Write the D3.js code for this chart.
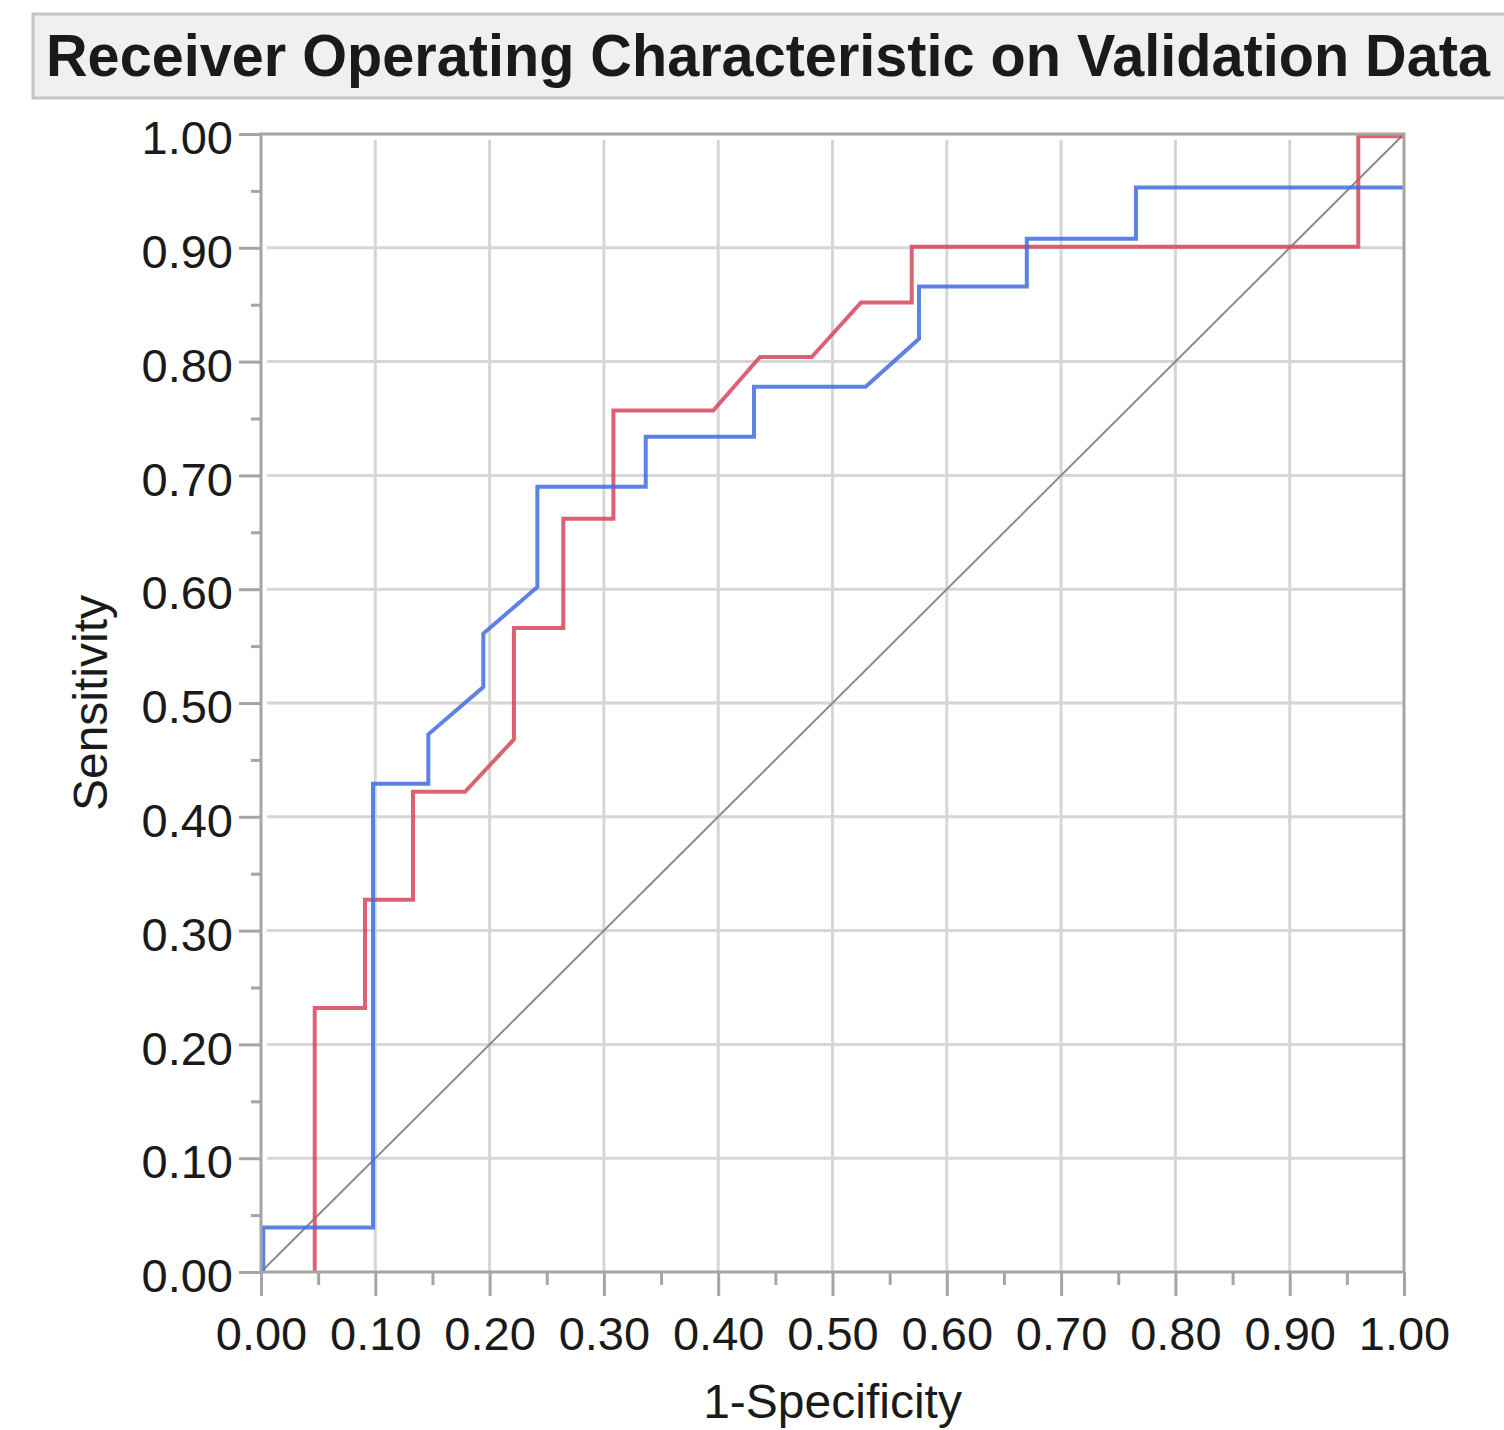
<!DOCTYPE html>
<html>
<head>
<meta charset="utf-8">
<script src="https://cdn.jsdelivr.net/npm/d3@7"></script>
<style>
    body { margin: 0; background: #fff; }
    svg { display: block; }
    text { font-family: "Liberation Sans", Arial, sans-serif; fill: #1a1a1a; }
</style>
</head>
<body>
<svg id="chart" width="1504" height="1430"></svg>
<script>
// --- Data ---
const titleText = 'Receiver Operating Characteristic on Validation Data';
const xLabel = '1-Specificity';
const yLabel = 'Sensitivity';
const majorTicks = [0, 0.1, 0.2, 0.3, 0.4, 0.5, 0.6, 0.7, 0.8, 0.9, 1.0];
const minorTicks = [0.05, 0.15, 0.25, 0.35, 0.45, 0.55, 0.65, 0.75, 0.85, 0.95];

// red series: vertices of the ROC path
const redX = [0.047, 0.047, 0.091, 0.091, 0.133, 0.133, 0.1785, 0.2213, 0.2213, 0.2645, 0.2645, 0.3083, 0.3083, 0.3957, 0.4366, 0.4818, 0.525, 0.5693, 0.5693, 0.960, 0.960, 1.0];
const redY = [0, 0.232, 0.232, 0.327, 0.327, 0.422, 0.422, 0.468, 0.566, 0.566, 0.662, 0.662, 0.757, 0.757, 0.804, 0.804, 0.852, 0.852, 0.901, 0.901, 0.998, 0.998];

// blue series
const blueX = [0.002, 0.002, 0.098, 0.098, 0.1464, 0.1464, 0.1945, 0.1945, 0.2418, 0.2418, 0.3366, 0.3366, 0.4313, 0.4313, 0.529, 0.5757, 0.5757, 0.670, 0.670, 0.7655, 0.7655, 1.0];
const blueY = [0, 0.039, 0.039, 0.429, 0.429, 0.4725, 0.514, 0.561, 0.602, 0.690, 0.690, 0.734, 0.734, 0.778, 0.778, 0.820, 0.866, 0.866, 0.908, 0.908, 0.953, 0.953];

const diagX = [0, 1];
const diagY = [0, 1];

// --- Layout ---
const svg = d3.select('#chart');
const margin = { left: 261, top: 134, right: 100, bottom: 158 };
const plotW = 1143, plotH = 1138;

const x = d3.scaleLinear().domain([0, 1]).range([margin.left, margin.left + plotW]);
const y = d3.scaleLinear().domain([0, 1]).range([margin.top + plotH, margin.top]);

// --- Title box ---
svg.append('rect')
    .attr('x', 33).attr('y', 14)
    .attr('width', 1500).attr('height', 84)
    .attr('fill', '#f0f0f0')
    .attr('stroke', '#c4c4c4').attr('stroke-width', 3);

svg.append('text')
    .attr('x', 46).attr('y', 76)
    .attr('font-family', '"Noto Sans", "Open Sans", sans-serif')
    .attr('font-weight', 'bold')
    .attr('font-size', 60)
    .attr('textLength', 1444)
    .attr('lengthAdjust', 'spacingAndGlyphs')
    .attr('fill', '#222')
    .text(titleText);

// --- Grid ---
const grid = svg.append('g').attr('stroke', '#d6d6d6').attr('stroke-width', 3);
grid.selectAll('.vgrid')
    .data(majorTicks.slice(1, -1))
    .join('line')
    .attr('x1', d => x(d)).attr('x2', d => x(d))
    .attr('y1', y(1) + 6).attr('y2', y(0));
grid.selectAll('.hgrid')
    .data(majorTicks.slice(1, -1))
    .join('line')
    .attr('y1', d => y(d)).attr('y2', d => y(d))
    .attr('x1', x(0) + 6).attr('x2', x(1));

// --- Diagonal reference ---
const lineGen = d3.line().x(d => x(d[0])).y(d => y(d[1]));
svg.append('path')
    .datum(d3.zip(diagX, diagY))
    .attr('d', lineGen)
    .attr('fill', 'none')
    .attr('stroke', '#8a8a8a')
    .attr('stroke-width', 2);

// --- ROC curves ---
svg.append('path')
    .datum(d3.zip(redX, redY))
    .attr('d', lineGen)
    .attr('fill', 'none')
    .attr('stroke', '#d6475b')
    .attr('stroke-opacity', 0.85)
    .attr('stroke-width', 4);

svg.append('path')
    .datum(d3.zip(blueX, blueY))
    .attr('d', lineGen)
    .attr('fill', 'none')
    .attr('stroke', '#3f6ce0')
    .attr('stroke-opacity', 0.85)
    .attr('stroke-width', 4);

// --- Axes ---
const fmt = d3.format('.2f');
const axisColor = '#a5a5a5';

const xMajor = svg.append('g')
    .attr('transform', `translate(0,${y(0)})`)
    .call(d3.axisBottom(x).tickValues(majorTicks).tickFormat(fmt).tickSize(24).tickPadding(21));
const xMinor = svg.append('g')
    .attr('transform', `translate(0,${y(0)})`)
    .call(d3.axisBottom(x).tickValues(minorTicks).tickFormat('').tickSize(13));

const yMajor = svg.append('g')
    .attr('transform', `translate(${x(0)},0)`)
    .call(d3.axisLeft(y).tickValues(majorTicks).tickFormat(fmt).tickSize(22).tickPadding(6));
const yMinor = svg.append('g')
    .attr('transform', `translate(${x(0)},0)`)
    .call(d3.axisLeft(y).tickValues(minorTicks).tickFormat('').tickSize(10));

[xMajor, xMinor, yMajor, yMinor].forEach(g => {
    g.select('.domain').remove();
    g.selectAll('.tick line').attr('stroke', axisColor).attr('stroke-width', 3);
    g.selectAll('text')
        .attr('font-family', '"Liberation Sans", Arial, sans-serif')
        .attr('font-size', 47)
        .attr('fill', '#1a1a1a');
});
yMajor.selectAll('text').attr('dy', '0.42em');

// frame around plot
svg.append('rect')
    .attr('x', x(0)).attr('y', y(1))
    .attr('width', plotW).attr('height', plotH)
    .attr('fill', 'none')
    .attr('stroke', axisColor).attr('stroke-width', 3);

// --- Axis titles ---
svg.append('text')
    .attr('x', x(0.5)).attr('y', 1418)
    .attr('text-anchor', 'middle')
    .attr('font-size', 48)
    .text(xLabel);

svg.append('text')
    .attr('transform', `translate(107,${y(0.5)}) rotate(-90)`)
    .attr('text-anchor', 'middle')
    .attr('font-size', 48)
    .text(yLabel);
</script>
</body>
</html>
